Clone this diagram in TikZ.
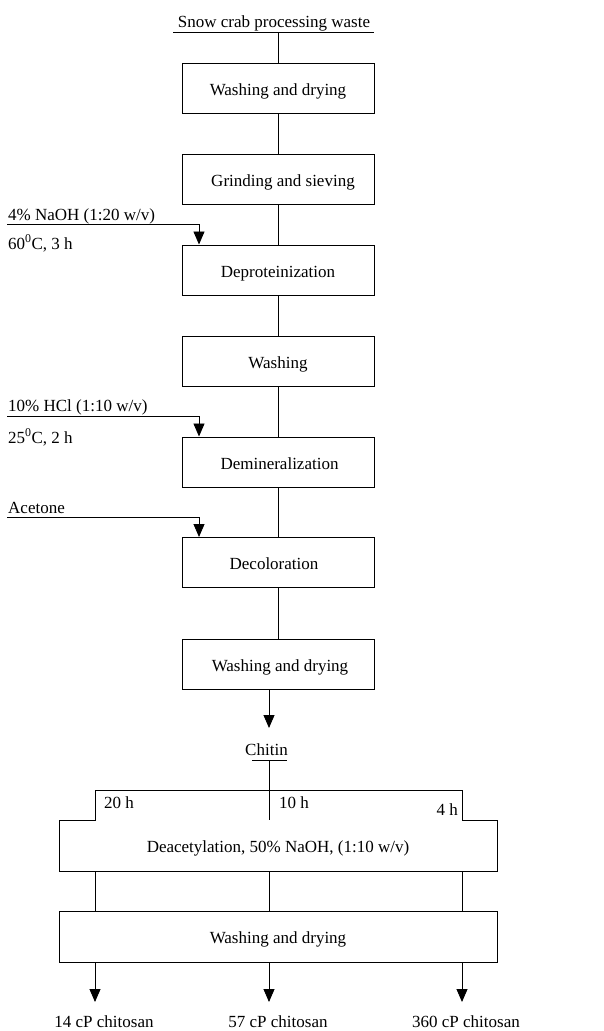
\documentclass[tikz,border=0pt]{standalone}
\usepackage{fontspec}
\setmainfont{Liberation Serif}
\usetikzlibrary{arrows.meta}
\begin{document}
\begin{tikzpicture}[x=1pt,y=-1pt,
  box/.style={draw, line width=1pt, minimum width=192pt, minimum height=50pt, inner sep=0pt, text height=14pt, text depth=0pt, font=\fontsize{17}{20}\selectfont},
  lbl/.style={inner sep=0pt, font=\fontsize{17}{20}\selectfont},
  ln/.style={line width=0.9pt},
  arr/.style={ln, -{Triangle[width=11pt,length=13pt]}}]
\useasboundingbox (0,0) rectangle (604,1031);
% main boxes
\node[box] (b1) at (278,88) {Washing and drying};
\node[box] (b2) at (278,179) {\hspace*{10pt}Grinding and sieving};
\node[box] (b3) at (278,270) {Deproteinization};
\node[box] (b4) at (278,361) {Washing};
\node[box] (b5) at (278,462) {\hspace*{3pt}Demineralization};
\node[box] (b6) at (278,562.5) {Decoloration\hspace*{8pt}};
\node[box] (b7) at (278,664) {\hspace*{4pt}Washing and drying};
% source
\node[lbl, anchor=base] (src) at (274,27) {Snow crab processing waste};
\draw[ln] (173,32) -- (374,32);
\coordinate (srcu) at (278,32);
\draw[ln] (srcu) -- (b1);
\draw[ln] (b1) -- (b2);
\draw[ln] (b2) -- (b3);
\draw[ln] (b3) -- (b4);
\draw[ln] (b4) -- (b5);
\draw[ln] (b5) -- (b6);
\draw[ln] (b6) -- (b7);
% side inputs
\coordinate (ax) at (199,0);
\node[lbl, anchor=base west] (naoh) at (8,220) {4\% NaOH (1:20 w/v)};
\node[lbl, anchor=base west] (t1) at (8,249) {60\textsuperscript{0}C, 3 h};
\coordinate (naohs) at (7,224);
\draw[arr] (naohs) -| (b3.north -| ax);
\node[lbl, anchor=base west] (hcl) at (8,411) {10\% HCl (1:10 w/v)};
\node[lbl, anchor=base west] (t2) at (8,443) {25\textsuperscript{0}C, 2 h};
\coordinate (hcls) at (7,416);
\draw[arr] (hcls) -| (b5.north -| ax);
\node[lbl, anchor=base west] (acet) at (8,513) {Acetone};
\coordinate (acets) at (7,517);
\draw[arr] (acets) -| (b6.north -| ax);
% chitin
\coordinate (cx) at (269,0);
\coordinate (chtip) at (269,728);
\draw[arr] (b7.south -| cx) -- (chtip);
\node[lbl, anchor=base] (chitin) at (266.5,755) {Chitin};
\draw[ln] (252,760) -- (287,760);
\coordinate (chu) at (269,760);
\coordinate (midtop) at (269,820);
\draw[ln] (chu) -- (midtop);
% deacetylation
\node[lbl, minimum width=438pt, minimum height=51pt, text height=14pt, text depth=0pt] (deac) at (278,845.5) {Deacetylation, 50\% NaOH, (1:10 w/v)};
\draw[line width=1pt] (95,820) -- (95,790) -- (462,790) -- (462,820) -- (497,820) -- (497,871) -- (59,871) -- (59,820) -- cycle;
\node[lbl, anchor=base west] (h20) at (104,808) {20 h};
\node[lbl, anchor=base west] (h10) at (279,808) {10 h};
\node[lbl, anchor=base east] (h4) at (458,815) {4 h};
% final wash
\node[box, minimum width=438pt, minimum height=51pt] (wb) at (278,936.5) {Washing and drying};
\coordinate (cL) at (95,0);
\coordinate (cR) at (462,0);
\draw[ln] (deac.south -| cL) -- (wb.north -| cL);
\draw[ln] (deac.south -| cx) -- (wb.north -| cx);
\draw[ln] (deac.south -| cR) -- (wb.north -| cR);
\coordinate (pL) at (95,1002);
\coordinate (pM) at (269,1002);
\coordinate (pR) at (462,1002);
\draw[arr] (wb.south -| cL) -- (pL);
\draw[arr] (wb.south -| cx) -- (pM);
\draw[arr] (wb.south -| cR) -- (pR);
\node[lbl, anchor=base] (o1) at (104,1027) {14 cP chitosan};
\node[lbl, anchor=base] (o2) at (278,1027) {57 cP chitosan};
\node[lbl, anchor=base] (o3) at (466,1027) {360 cP chitosan};
\end{tikzpicture}
\end{document}
